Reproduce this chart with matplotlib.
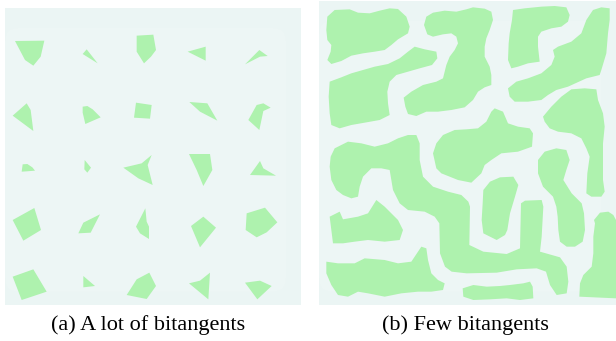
import matplotlib
matplotlib.use("Agg")
import matplotlib.pyplot as plt
from matplotlib.patches import Polygon, FancyBboxPatch

# obstacle outlines, traced in a 3x grid of each panel
manyShapes = [
    [(45, 123), (133, 122), (122, 170), (100, 197), (75, 180)],
    [(248, 162), (260, 148), (293, 190)],
    [(410, 107), (460, 104), (468, 150), (453, 170), (432, 190), (410, 155)],
    [(563, 155), (617, 140), (617, 182)],
    [(735, 193), (778, 150), (803, 168), (780, 170)],
    [(38, 347), (80, 310), (92, 330), (100, 393)],
    [(248, 320), (262, 318), (278, 328), (302, 352), (256, 372), (248, 338)],
    [(408, 308), (455, 315), (450, 356), (402, 353)],
    [(568, 306), (622, 310), (652, 362), (600, 335)],
    [(790, 310), (812, 323), (790, 333), (778, 390), (745, 360), (770, 315)],
    [(68, 493), (82, 492), (97, 502), (105, 512), (80, 514), (65, 515)],
    [(254, 480), (273, 503), (262, 518), (253, 508)],
    [(370, 503), (425, 490), (455, 465), (443, 495), (458, 555), (415, 535)],
    [(567, 462), (630, 462), (637, 510), (610, 558), (590, 510)],
    [(780, 483), (790, 505), (828, 527), (750, 525)],
    [(38, 660), (103, 624), (123, 690), (70, 722)],
    [(235, 700), (250, 668), (300, 643), (272, 698)],
    [(436, 625), (440, 665), (447, 680), (447, 717), (420, 700), (408, 680)],
    [(573, 678), (610, 650), (648, 683), (600, 742)],
    [(740, 640), (795, 623), (832, 667), (800, 697), (770, 712), (737, 690)],
    [(38, 830), (100, 808), (140, 875), (65, 900)],
    [(250, 828), (285, 858), (250, 862)],
    [(380, 885), (410, 838), (448, 818), (468, 858), (440, 897)],
    [(567, 850), (600, 842), (630, 818), (625, 898)],
    [(735, 848), (780, 842), (815, 858), (772, 898)],
]

fewShapes = [
    # top left
    [(58, 50), (80, 30), (125, 28), (150, 38), (185, 40), (215, 32), (245, 25), (270, 27),
     (295, 50), (305, 80), (300, 100), (270, 118), (250, 135), (230, 150), (200, 155),
     (165, 160), (130, 167), (100, 183), (70, 192), (58, 180), (68, 155), (70, 135),
     (58, 120), (55, 90)],
    # top middle
    [(348, 75), (355, 50), (375, 38), (410, 32), (445, 35), (475, 28), (495, 22), (530, 26),
     (550, 35), (555, 60), (545, 90), (535, 115), (530, 140), (530, 170), (545, 200),
     (550, 225), (550, 255), (530, 262), (510, 275), (495, 300), (470, 322), (430, 330),
     (390, 335), (355, 335), (325, 348), (300, 342), (292, 320), (287, 293), (310, 275),
     (345, 255), (385, 245), (405, 235), (415, 195), (425, 170), (440, 150), (450, 130),
     (445, 110), (430, 100), (405, 103), (375, 110), (358, 103)],
    # left, second row
    [(65, 245), (100, 232), (130, 220), (165, 210), (200, 200), (240, 192), (275, 175),
     (300, 155), (320, 140), (350, 148), (385, 155), (388, 175), (372, 195), (335, 205),
     (300, 215), (265, 225), (245, 245), (238, 275), (240, 310), (245, 345), (215, 360),
     (170, 368), (130, 375), (95, 385), (70, 375), (65, 340), (62, 290)],
    # top right middle
    [(615, 30), (650, 25), (700, 20), (740, 18), (775, 22), (785, 45), (780, 65), (760, 80),
     (730, 85), (700, 95), (690, 110), (690, 140), (695, 185), (660, 190), (630, 200),
     (610, 205), (600, 180), (602, 130), (605, 100), (612, 60)],
    # top right
    [(600, 265), (625, 245), (660, 235), (700, 220), (730, 195), (740, 170), (735, 150),
     (750, 140), (790, 125), (820, 100), (835, 60), (855, 30), (880, 22), (905, 25),
     (905, 60), (900, 100), (895, 160), (880, 210), (875, 225), (835, 235), (780, 260),
     (745, 270), (720, 285), (700, 300), (660, 305), (620, 305), (605, 290)],
    # right
    [(705, 350), (730, 320), (760, 290), (790, 268), (830, 265), (865, 268), (870, 300),
     (885, 340), (890, 380), (885, 430), (885, 480), (885, 540), (890, 575), (880, 590),
     (850, 590), (835, 580), (838, 520), (845, 470), (835, 445), (820, 415), (790, 400),
     (750, 395), (725, 385), (710, 365)],
    # centre
    [(375, 460), (385, 430), (405, 405), (440, 390), (475, 388), (510, 385), (535, 365),
     (550, 335), (560, 325), (585, 335), (600, 370), (630, 380), (665, 385), (675, 400),
     (672, 440), (630, 455), (580, 460), (550, 480), (530, 495), (520, 520), (490, 548),
     (450, 540), (400, 520), (385, 505)],
    # long winding one
    [(68, 470), (80, 445), (120, 425), (160, 430), (200, 440), (240, 430), (270, 415),
     (300, 405), (325, 405), (335, 430), (335, 480), (345, 530), (375, 560), (420, 575),
     (460, 585), (481, 605), (486, 620), (484, 735), (526, 755), (596, 762), (636, 745),
     (639, 610), (651, 602), (701, 600), (706, 620), (701, 710), (696, 755), (756, 772),
     (776, 800), (781, 845), (776, 880), (746, 885), (726, 855), (714, 815), (686, 805),
     (626, 808), (566, 818), (476, 820), (431, 815), (411, 800), (396, 760), (394, 670),
     (380, 650), (350, 635), (300, 630), (275, 610), (255, 570), (250, 540), (245, 510),
     (220, 505), (190, 505), (165, 530), (155, 560), (150, 590), (130, 595), (105, 585),
     (85, 570), (70, 540), (65, 500)],
    # small vertical one
    [(526, 570), (546, 545), (576, 532), (616, 530), (631, 555), (621, 590), (606, 640),
     (598, 690), (591, 705), (566, 720), (546, 710), (526, 700), (521, 660), (524, 610)],
    # right middle
    [(690, 480), (710, 455), (745, 445), (775, 450), (785, 480), (775, 510), (766, 540),
     (791, 580), (821, 610), (828, 640), (831, 690), (824, 725), (801, 740), (776, 740),
     (756, 725), (751, 690), (749, 650), (745, 620), (735, 590), (705, 560), (690, 520)],
    # bottom right
    [(858, 660), (876, 638), (901, 635), (916, 645), (924, 660), (924, 895), (814, 890),
     (816, 850), (826, 825), (851, 800), (856, 760), (856, 710), (861, 670)],
    # bottom small
    [(464, 865), (496, 855), (536, 860), (576, 858), (606, 855), (646, 850), (666, 845),
     (674, 860), (676, 895), (636, 900), (596, 895), (546, 898), (496, 900), (466, 890)],
    # left, fourth row
    [(65, 650), (95, 635), (105, 658), (150, 650), (180, 640), (205, 600), (230, 620),
     (270, 660), (285, 690), (275, 720), (230, 725), (180, 720), (140, 725), (105, 730),
     (75, 730), (70, 690)],
    # bottom left
    [(55, 785), (90, 790), (140, 790), (170, 775), (230, 780), (270, 790), (310, 785),
     (330, 755), (340, 740), (355, 745), (360, 780), (370, 820), (390, 840), (410, 850),
     (405, 870), (370, 875), (330, 875), (280, 880), (230, 890), (180, 880), (150, 875),
     (120, 890), (90, 885), (70, 855), (55, 820)],
]

captions = ["(a) A lot of bitangents", "(b) Few bitangents"]

bgColor = "#ebf5f4"
innerColor = "#edf6f5"
obsColor = "#aef2ae"

W, H = 616, 341
fig = plt.figure(figsize=(W / 100, H / 100), dpi=100)

# panel boxes in pixels: left, top, right, bottom ; and grid limits
panels = [
    ((5, 8, 301, 305), (15, 903, 915, 24), manyShapes, 148),
    ((319, 1, 616, 305), (33, 924, 915, 3), fewShapes, 465),
]

for i, (box, lims, shapes, capX) in enumerate(panels):
    l, t, r, b = box
    ax = fig.add_axes([l / W, (H - b) / H, (r - l) / W, (b - t) / H])
    ax.set_facecolor(bgColor)
    ax.set_xlim(lims[0], lims[1])
    ax.set_ylim(lims[2], lims[3])
    # faint lighter area inside the frame
    ax.add_patch(FancyBboxPatch((lims[0], lims[3] + 60), (lims[1] - lims[0]) - 45,
                                (lims[2] - lims[3]) - 100, boxstyle="round,pad=0,rounding_size=40",
                                facecolor=innerColor, edgecolor="none"))
    for pts in shapes:
        ax.add_patch(Polygon(pts, closed=True, facecolor=obsColor, edgecolor="none"))
    ax.set_xticks([])
    ax.set_yticks([])
    for s in ax.spines.values():
        s.set_visible(False)
    fig.text(capX / W, 1 - 325 / H, captions[i], ha="center", va="center",
             family="Liberation Serif", fontsize=16, color="black")

fig.savefig("out.png", dpi=100)
